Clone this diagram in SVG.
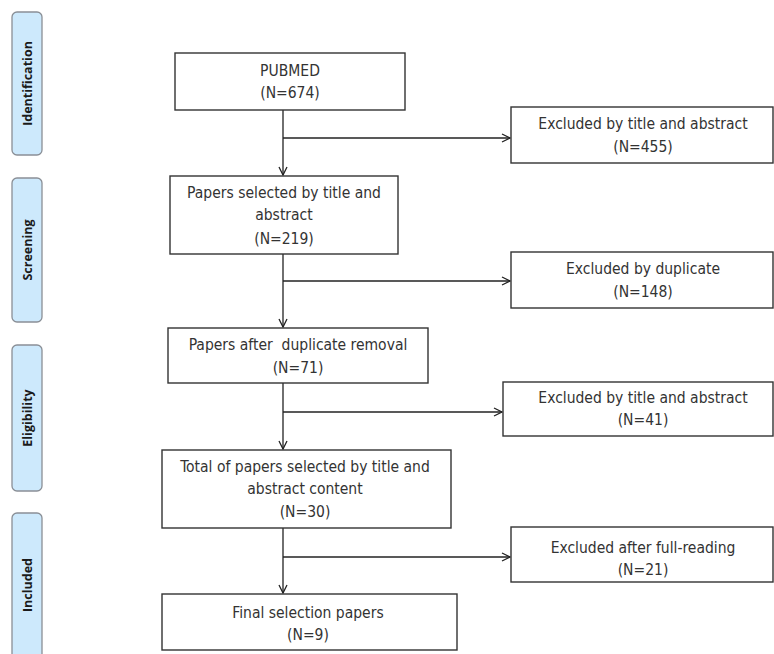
<svg xmlns="http://www.w3.org/2000/svg" width="774" height="654" viewBox="0 0 774 654">
<defs>
<style>
.side rect{fill:#cde9fc;stroke:#8a8f96;stroke-width:1.3}
.side text{font-family:"Open Sans","DejaVu Sans",sans-serif;font-weight:bold;font-size:12.5px;fill:#1a1a1a;text-anchor:middle}
.box rect{fill:#fff;stroke:#333;stroke-width:1.4}
.box text{font-family:"DejaVu Sans",sans-serif;font-stretch:condensed;font-size:15.5px;fill:#333;text-anchor:middle}
.conn line{stroke:#222;stroke-width:1.3;fill:none}
</style>
<marker id="arr" markerWidth="12" markerHeight="12" refX="9" refY="5" orient="auto" markerUnits="userSpaceOnUse">
<path d="M1,1 L9,5 L1,9" fill="none" stroke="#222" stroke-width="1.3"/>
</marker>
</defs>
<rect width="774" height="654" fill="#fff"/>
<g id="stage-identification" class="side"><rect x="12" y="12" width="30" height="143" rx="5"/><text transform="translate(32,83.5) rotate(-90)">Identification</text></g>
<g id="stage-screening" class="side"><rect x="12" y="178" width="30" height="144" rx="5"/><text transform="translate(32,250) rotate(-90)">Screening</text></g>
<g id="stage-eligibility" class="side"><rect x="12" y="345" width="30" height="146" rx="5"/><text transform="translate(32,418) rotate(-90)">Eligibility</text></g>
<g id="stage-included" class="side"><rect x="12" y="513" width="30" height="160" rx="5"/><text transform="translate(32,585) rotate(-90)">Included</text></g>
<g id="conns" class="conn">
<line x1="283" y1="110" x2="283" y2="175" marker-end="url(#arr)"/>
<line x1="283" y1="138" x2="510" y2="138" marker-end="url(#arr)"/>
<line x1="283" y1="254" x2="283" y2="327" marker-end="url(#arr)"/>
<line x1="283" y1="281" x2="510" y2="281" marker-end="url(#arr)"/>
<line x1="283" y1="383" x2="283" y2="449" marker-end="url(#arr)"/>
<line x1="283" y1="412" x2="502" y2="412" marker-end="url(#arr)"/>
<line x1="283" y1="528" x2="283" y2="593" marker-end="url(#arr)"/>
<line x1="283" y1="557" x2="510" y2="557" marker-end="url(#arr)"/>
</g>
<g id="pubmed" class="box"><rect x="175" y="53" width="230" height="57"/><text x="290" y="76">PUBMED</text><text x="290" y="98">(N=674)</text></g>
<g id="excl455" class="box"><rect x="511" y="107" width="262" height="56"/><text x="643" y="129">Excluded by title and abstract</text><text x="643" y="152">(N=455)</text></g>
<g id="selected219" class="box"><rect x="170" y="176" width="228" height="78"/><text x="284" y="198">Papers selected by title and</text><text x="284" y="220">abstract</text><text x="284" y="244">(N=219)</text></g>
<g id="excl148" class="box"><rect x="511" y="252" width="262" height="56"/><text x="643" y="274">Excluded by duplicate</text><text x="643" y="297">(N=148)</text></g>
<g id="after71" class="box"><rect x="168" y="328" width="260" height="55"/><text x="298" y="350" xml:space="preserve">Papers after  duplicate removal</text><text x="298" y="373">(N=71)</text></g>
<g id="excl41" class="box"><rect x="503" y="382" width="270" height="54"/><text x="643" y="403">Excluded by title and abstract</text><text x="643" y="425">(N=41)</text></g>
<g id="total30" class="box"><rect x="162" y="450" width="289" height="78"/><text x="305" y="472">Total of papers selected by title and</text><text x="305" y="494">abstract content</text><text x="305" y="517">(N=30)</text></g>
<g id="excl21" class="box"><rect x="511" y="527" width="262" height="55"/><text x="643" y="553">Excluded after full-reading</text><text x="643" y="575">(N=21)</text></g>
<g id="final9" class="box"><rect x="162" y="594" width="295" height="56"/><text x="308" y="618">Final selection papers</text><text x="308" y="640">(N=9)</text></g>
</svg>
